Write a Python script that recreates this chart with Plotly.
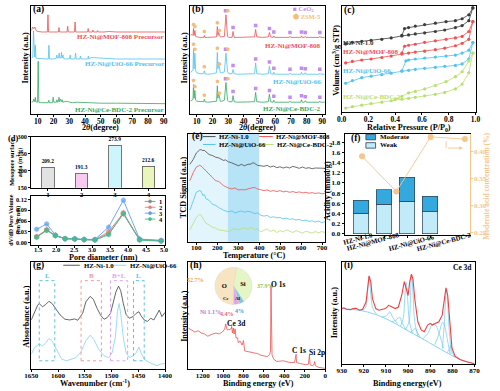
import plotly.graph_objects as go

# ======================= DATA =======================
# (a) XRD of precursors: (2theta, stacked intensity a.u.)
a_red = [(6,85),(6.8,88.5),(7.5,87),(8.2,88.5),(9,85),(10,84),(13,83.5),(16.1,83.5),(16.5,101),(16.9,83.5),(20,83.5),(23.1,83.5),(23.5,88),(23.9,83.5),(26,83.5),(28.6,83.5),(29.0,89.3),(29.4,83.5),(31,83.5),(33.3,83.5),(33.7,93.7),(34.1,83.5),(38,83.5),(41.6,83.5),(42.0,87),(42.4,83.5),(44.6,83.5),(45.0,85.5),(45.4,83.5),(47.6,83.5),(48.0,85),(48.4,83.5),(52,83.5),(55,84),(60,83.5),(70,83.5),(80,83.5),(90.8,83.5)]
a_blue = [(6,57),(6.9,58),(7.3,84.7),(7.7,60),(8.1,58),(8.5,70),(8.9,57),(10,56.5),(13,56),(16.7,56),(17.1,70),(17.5,56),(20,56),(21.7,56.5),(22.1,60),(22.5,57),(23.2,57),(23.6,62),(24.0,57),(24.7,57),(25.1,62.7),(25.5,57),(26.0,60),(26.4,56.5),(28,56),(30.2,56),(30.6,60),(31.0,56),(33.6,56),(34.0,62),(34.4,56),(36.7,56),(37.1,59),(37.5,56),(40,56),(41.7,56),(42.1,59),(42.5,56),(44,57.5),(48,57),(50,56.5),(55,56.5),(60,56),(70,56),(80,56),(90.8,56)]
a_green = [(6,12),(7.1,12.5),(7.5,15.3),(7.9,12.5),(8.2,12.5),(8.5,17),(8.8,12.5),(9.9,12),(10.3,53.7),(10.7,12),(12,11.5),(16.6,11.5),(17,14),(17.4,11.5),(19.4,11.5),(19.8,17),(20.2,12),(21.8,12),(22.2,14.5),(22.6,12),(23.1,12.5),(23.5,17),(23.9,12.5),(24.5,15),(25.1,12.5),(25.5,14.5),(25.9,12),(28,13),(30,12.5),(32,11.5),(35,12),(40,11.5),(45,11.5),(50,11),(60,11),(70,11),(80,10.5),(90.8,10.5)]

# (b) XRD of catalysts
b_red = [(6,80),(7.0,81),(7.6,80),(7.9,87),(8.3,80),(8.8,85),(9.3,79),(10,78.5),(12,78),(14.4,78),(14.8,80),(15.2,78),(17,78),(20,78),(22.6,78.5),(23.1,89),(23.5,80),(23.9,83),(24.4,81),(25,78.5),(26,78.5),(27.6,79),(28.6,101),(29.6,79),(30.5,78),(32.5,78),(33.1,84),(33.8,78),(36,78),(40,78),(44,78),(46.8,78.5),(47.5,86),(48.2,78.5),(52,78),(55.6,78.5),(56.3,83),(57,78.5),(58.6,78),(59.1,79.5),(59.6,78),(64,78),(68.9,78),(69.4,79),(69.9,78),(74,78),(76.2,78),(76.7,79.5),(77.2,78),(78.6,78),(79.1,79),(79.6,78),(85,78),(87.9,78),(88.4,79),(88.9,78),(91.5,78)]
b_blue = [(6,42),(7.0,44),(7.6,45),(7.9,67),(8.3,46),(8.8,62),(9.3,44),(10,42),(12,41),(14.4,41),(14.8,44),(15.2,41),(17,40.5),(20,41),(22.6,42),(23.1,62.7),(23.5,46),(23.9,53),(24.4,47),(25,42),(26,42),(27.6,43),(28.6,62),(29.6,43),(30.5,41),(32.5,41),(33.1,45.3),(33.8,41),(36,40.5),(40,40.5),(44,40.5),(46.8,41),(47.5,52),(48.2,41),(52,40.5),(55.6,41),(56.3,48.7),(57,41),(58.6,40.5),(59.1,42.5),(59.6,40.5),(64,40.5),(68.9,40.5),(69.4,41.5),(69.9,40.5),(74,40.5),(76.2,40.5),(76.7,42.5),(77.2,40.5),(78.6,40.5),(79.1,42),(79.6,40.5),(85,40.5),(87.9,40.5),(88.4,41.5),(88.9,40.5),(91.5,40.5)]
b_green = [(6,13),(7.0,14),(7.6,15),(7.9,30),(8.3,16),(8.8,24),(9.3,14),(10,13),(12,12.5),(14.4,12.5),(14.8,15),(15.2,12.5),(17,12),(20,12.5),(22.6,13),(23.1,28.7),(23.5,16),(23.9,22),(24.4,17),(25,13),(26,13),(27.6,14),(28.6,32),(29.6,14),(30.5,12.5),(32.5,12.5),(33.1,18.7),(33.8,12.5),(36,12),(40,12),(44,12),(46.8,12.5),(47.5,22),(48.2,12.5),(52,12),(55.6,12.5),(56.3,20),(57,12.5),(58.6,12),(59.1,14),(59.6,12),(64,12),(68.9,12),(69.4,13),(69.9,12),(74,12),(76.2,12),(76.7,14.5),(77.2,12),(78.6,12),(79.1,13.5),(79.6,12),(85,12),(87.9,12),(88.4,13),(88.9,12),(91.5,12)]
b_ceo2_x = [28.3, 33.1, 47.5, 56.3, 59.1, 69.4, 76.7, 79.1, 88.4]
b_ceo2_red = [105, 88, 90, 87, 83.5, 83, 83.5, 83, 83]
b_ceo2_blue = [66, 49.5, 56, 53, 46.5, 45.5, 46.5, 46, 45.5]
b_ceo2_green = [36, 23, 26, 24, 18, 17, 18.5, 17.5, 17]
b_zsm_x = [7.9, 8.8, 14.8, 23.1, 24.4, 29.8]
b_zsm_red = [91, 89, 84, 93, 85, 105]
b_zsm_blue = [71, 66, 48, 67, 51, 66]
b_zsm_green = [34, 28, 19, 33, 21, 36]

# (c) N2 isotherms (P/P0, volume offset)
c_black_ads = [(0.03,69.3),(0.08,71),(0.15,72),(0.22,73),(0.3,74),(0.37,75.5),(0.45,77.5),(0.5,78.5),(0.55,79.5),(0.62,80.5),(0.7,82),(0.77,83.5),(0.85,86),(0.9,88),(0.95,93),(0.98,106)]
c_black_des = [(0.98,106),(0.95,99),(0.9,95),(0.85,93),(0.78,92),(0.7,90.5),(0.62,89),(0.55,87.5),(0.5,86),(0.47,85),(0.45,78)]
c_red_ads = [(0.03,50),(0.08,51.5),(0.15,53),(0.22,54),(0.3,55.5),(0.37,57),(0.45,59),(0.5,60),(0.55,61),(0.62,62),(0.7,63.5),(0.77,65),(0.85,67.5),(0.9,70),(0.95,74),(0.98,92)]
c_red_des = [(0.98,92),(0.95,82),(0.9,77),(0.85,75.5),(0.78,74),(0.7,72.5),(0.62,71),(0.55,69),(0.5,68),(0.47,67),(0.45,60)]
c_blue_ads = [(0.03,29.3),(0.08,32),(0.15,35),(0.22,36.5),(0.3,38),(0.37,39.5),(0.45,41.5),(0.5,42.5),(0.55,43.5),(0.62,44.5),(0.7,45.5),(0.77,46.5),(0.85,47.5),(0.9,49),(0.95,54),(0.98,70.7)]
c_blue_des = [(0.98,70.7),(0.95,63),(0.9,60),(0.85,58),(0.78,57),(0.7,56),(0.62,55),(0.55,54),(0.5,53),(0.48,52),(0.45,42)]
c_green_ads = [(0.03,4),(0.08,5.5),(0.15,7),(0.22,8.5),(0.3,10),(0.37,11.5),(0.45,13),(0.5,14),(0.55,15),(0.62,16.5),(0.7,18),(0.77,20),(0.85,23.5),(0.9,28.5),(0.95,40),(0.98,60)]
c_green_des = [(0.98,60),(0.95,52),(0.9,41),(0.85,36),(0.78,31),(0.7,27),(0.62,23.5),(0.55,21),(0.5,19.5),(0.45,16),(0.4,13)]

# (d) mesopore area and pore size distribution
d_samples = [1, 2, 3, 4]
d_meso_area = [209.2, 191.3, 273.9, 212.6]
d_pore_d = [1.46, 1.74, 1.98, 2.25, 2.52, 2.78, 3.08, 3.46, 3.87, 4.32, 4.92]
d_psd_1 = [0.016, 0.035, 0.020, 0.011, 0.010, 0.008, 0.008, 0.025, 0.080, 0.008, 0.005]
d_psd_2 = [0.017, 0.036, 0.020, 0.011, 0.010, 0.008, 0.008, 0.030, 0.083, 0.009, 0.006]
d_psd_3 = [0.037, 0.052, 0.021, 0.011, 0.011, 0.009, 0.009, 0.043, 0.118, 0.010, 0.006]
d_psd_4 = [0.015, 0.034, 0.019, 0.011, 0.010, 0.009, 0.007, 0.022, 0.081, 0.007, 0.004]

# (e) NH3-TPD (temperature, offset signal)
e_black = [(69,78.7),(85,83.7),(100,90.3),(115,93.3),(123,93.7),(131,92.7),(138,93),(146,91.3),(154,90),(161,88.7),(177,87.7),(192,86),(207,85.3),(230,82.7),(238,83.3),(253,81.3),(269,80.3),(284,78.7),(300,77.3),(315,78.7),(330,77.3),(346,78.7),(361,79),(369,80.3),(376,80),(392,77.7),(407,77),(423,76.7),(438,77.7),(453,76),(469,77),(484,75.3),(499,76.3),(515,75),(530,76),(545,75),(561,76.7),(576,75.3),(591,74.7),(607,76),(622,74.7),(638,75.3),(653,74.3),(668,75),(684,74.7),(699,74.3),(714,74.7)]
e_red = [(69,62),(85,70.3),(100,76),(115,77.7),(123,77),(131,75.3),(146,72.7),(161,68.7),(177,65.3),(192,62),(207,61.3),(230,57),(253,54.7),(269,53.7),(284,54.7),(300,52.7),(315,53),(330,52.7),(346,53.7),(361,54.7),(376,55.3),(392,53.7),(407,52.7),(423,52),(438,52.7),(453,51.3),(469,52),(484,51),(499,52),(515,50.7),(530,51.3),(545,50.3),(561,51),(576,50),(591,50.7),(607,49.7),(622,50.3),(638,49.3),(653,50),(668,49),(684,49.7),(699,48.7),(714,49.3)]
e_blue = [(69,32),(85,42),(100,50.3),(115,52),(123,51.3),(131,47),(138,48),(146,43.7),(161,42),(177,38),(192,37),(207,34.7),(230,32),(253,30.3),(269,31.3),(284,29.3),(300,30.3),(315,31.3),(330,30),(346,31),(361,30.3),(376,28.7),(392,29.3),(407,27),(423,26),(438,26.7),(453,24.7),(469,25.3),(484,24.3),(499,24.7),(515,23.3),(530,24),(545,22.7),(561,23.3),(576,22),(591,22.7),(607,21.3),(622,22),(638,20.7),(653,21.3),(668,20),(684,21),(699,19.3),(714,20.3)]
e_green = [(69,12),(85,18.7),(100,24.7),(115,27.7),(123,27),(131,23.7),(146,18.7),(161,17),(177,14.7),(192,13.7),(207,12),(230,11.3),(253,10.3),(269,12),(284,13.3),(300,12),(315,12.7),(330,14),(346,12.7),(361,14.7),(376,12),(392,13.3),(407,10),(423,12),(438,13),(453,10.3),(469,12),(484,9.3),(499,11.3),(515,10),(530,12),(545,10.7),(561,9.3),(576,11.3),(591,10),(607,8.7),(622,10.7),(638,9.7),(653,8.7),(668,10.3),(684,9),(699,10.3),(714,9.3)]
e_zones = [(62, 250), (250, 400)]

# (f) acidity
f_catalysts = ["HZ-Ni-1.0", "HZ-Ni@MOF-808", "HZ-Ni@UiO-66", "HZ-Ni@Ce-BDC-2"]
f_weak = [0.40, 0.58, 0.64, 0.43]
f_moderate = [0.26, 0.29, 0.47, 0.31]
f_mod_conc = [0.391, 0.326, 0.427, 0.423]

# (g) Py-IR (wavenumber, offset absorbance)
g_black = [(1650,50.3),(1644,58.7),(1638,65.3),(1635,67),(1629,63.7),(1623,66),(1617,69.3),(1611,67),(1605,62),(1596,55.3),(1587,51),(1578,50.3),(1569,51.3),(1563,50),(1554,57),(1548,68.7),(1540,74.3),(1534,71.3),(1527,62),(1520,54.7),(1514,51),(1508,52.7),(1502,57),(1496,68.7),(1492,78.7),(1487,84.7),(1483,80.3),(1478,67),(1473,56),(1467,52),(1460,53.7),(1454,57),(1449,58.7),(1445,54.7),(1439,50.3),(1433,48.7),(1427,52),(1421,50.3),(1415,57),(1411,60.3),(1406,53.7),(1400,58)]
g_blue = [(1650,15.3),(1644,22),(1635,26),(1629,23.7),(1623,27),(1617,31.3),(1611,28.7),(1605,22),(1599,15.3),(1593,10.3),(1584,8.7),(1575,10.3),(1566,12),(1557,18),(1548,29.3),(1540,34.7),(1533,30.3),(1524,20.3),(1514,13.7),(1505,12),(1499,17),(1493,32),(1489,58.7),(1486,67),(1483,57),(1478,32),(1473,17),(1467,12),(1460,13.7),(1454,17),(1449,22.7),(1445,17),(1439,10.3),(1430,7),(1421,4.7),(1415,3.7),(1409,5.3),(1400,6)]
g_bands = [(1635, 1606, "L"), (1557, 1519, "B"), (1502, 1470, "B+L"), (1459, 1439, "L")]

# (h) XPS survey (binding energy, intensity) and composition pie
h_survey = [(1341,42),(1309,40.3),(1278,38),(1246,39.3),(1215,37),(1183,36),(1151,33.7),(1120,35.3),(1073,37),(1041,36),(1009,38),(985,41),(975,46.3),(962,40.3),(946,40.3),(921,41.3),(916,43.7),(910,37),(900,42),(893,36),(883,41.3),(874,32),(858,32),(852,27),(833,28.7),(814,24.7),(801,29.3),(789,18.7),(757,18),(726,17.7),(694,17),(662,16),(631,14.3),(599,13.7),(568,13),(543,15.3),(536,18.7),(531,85.3),(527,15.3),(521,14.7),(505,10.3),(473,8),(410,8.7),(347,7),(300,7),(285,15.3),(281,7),(252,6),(189,4.7),(164,5.3),(154,14.7),(148,4.7),(126,3.7),(110,4.7),(103,8),(96,3.7),(63,2),(32,1.3),(0,1)]
h_pie_labels = ["Si", "Al", "Ni", "Ce", "O"]
h_pie_values = [37.9, 4.0, 1.1, 4.4, 52.7]

# (i) Ce 3d XPS
i_raw = [(930,56.7),(929,57.5),(927.8,56),(926,55.5),(924.9,56.7),(923.5,57),(922,55),(921,55.5),(920.5,56),(919,63.3),(918.3,76.7),(917.6,90),(916.8,83.3),(916.1,66.7),(914.6,56.7),(913.2,55),(911.5,56),(910.2,56.7),(908.8,60),(907.3,58.3),(905.8,56.7),(904.4,58.3),(902.9,70),(901.7,84),(900.7,75),(900,70),(899.3,83.3),(898.5,91.7),(897.8,86.7),(897,66.7),(895.6,43.3),(894.1,35),(892.7,33.3),(891.2,40),(890,41.7),(889,40),(887.5,41.7),(886.1,43.3),(884.6,50),(883.6,66.7),(882.9,77.7),(882.1,70),(881.2,40),(880.2,16.7),(878.8,8.3),(876.6,5),(873.6,2.7),(870,0.7)]
i_base = [(930,56.7),(922,55),(914.6,50.7),(907.3,43.3),(900,34),(892.7,25),(885,15),(881,10),(876.6,5),(870,0.7)]
i_components = [
    [(921,54.7),(919.3,57.3),(918.4,70),(917.6,89.3),(916.8,70),(915.9,56.7),(914.2,50.7)],
    [(912,48),(909.8,49.3),(908.3,53.3),(906.8,47.3),(904.6,40.7)],
    [(907.5,43.3),(905.2,45.3),(903.9,48),(902.6,41.7),(900.8,35)],
    [(903.5,38.7),(902.2,46.7),(901.5,66.7),(900.9,83.3),(900.2,66.7),(899.4,43.3),(898,31.7)],
    [(901,36),(899.6,43.3),(898.9,70),(898.4,90.7),(897.8,73.3),(897,43.3),(895.5,28.3)],
    [(899,32.7),(897.5,35),(896.8,36.7),(896,33.3),(894.5,27.3)],
    [(893.5,25.7),(891,31.7),(889.3,40),(888.5,41.3),(887.6,40),(886,31.7),(884,16.7)],
    [(888,20),(886.2,30),(885,40),(884.3,42.7),(883.6,40),(882.4,26.7),(881,10)],
    [(884.5,16),(883.6,43.3),(883,70),(882.7,76.7),(882.3,70),(881.6,40),(880.5,10.7)],
    [(882.5,11.7),(881.5,15),(880.8,19.3),(880,12.7),(879,7.3)],
]

# ======================= FIGURE =======================
W, H = 500, 391
FONT = "Liberation Serif"
C_BLK = "#3c3c3c"; C_RED = "#ee5252"; C_BLU = "#52c2ef"; C_GRN = "#33aa5f"; C_YG = "#b8e070"
C_PUR = "#c58cf0"; C_ORG = "#f5bd78"; C_FORG = "#f6c68c"

fig = go.Figure()
annots, shapes = [], []

def px(x): return x / W
def py(y): return 1 - y / H

def split(pairs):
    return [p[0] for p in pairs], [p[1] for p in pairs]

def add_line(pairs, color, xa, ya, width=0.9, mode="lines", marker=None, shape="linear"):
    xs, ys = split(pairs)
    fig.add_trace(go.Scatter(x=xs, y=ys, mode=mode, xaxis=xa, yaxis=ya,
                             line=dict(color=color, width=width, shape=shape),
                             marker=marker, hoverinfo="skip", showlegend=False))

def text(t, x, y, size=7.5, color="black", angle=0, xanchor="center", yanchor="middle",
         xref="paper", yref="paper"):
    if xref == "paper": x = px(x)
    if yref == "paper": y = py(y)
    annots.append(dict(text=t, x=x, y=y, xref=xref, yref=yref, showarrow=False, textangle=angle,
                       xanchor=xanchor, yanchor=yanchor, borderpad=0,
                       font=dict(family=FONT, size=size, color=color, weight="bold")))

def pline(x0, y0, x1, y1, color, width=1.0, dash=None):
    shapes.append(dict(type="line", xref="paper", yref="paper", x0=px(x0), y0=py(y0), x1=px(x1), y1=py(y1),
                       line=dict(color=color, width=width, dash=dash)))

def pdot(x, y, color, r=1.8):
    shapes.append(dict(type="circle", xref="paper", yref="paper", x0=px(x - r), x1=px(x + r),
                       y0=py(y + r), y1=py(y - r), fillcolor=color, line=dict(color=color, width=0.5)))

def prect(x0, y0, x1, y1, fill, line="#333333"):
    shapes.append(dict(type="rect", xref="paper", yref="paper", x0=px(x0), x1=px(x1), y0=py(y1), y1=py(y0),
                       fillcolor=fill, line=dict(color=line, width=0.8)))

def tf(size=7.5, color="black"):
    return dict(family=FONT, size=size, color=color, weight="bold")

def axis(l, r, anchor, rng, horizontal=True, fs=7.5, so=-2, **kw):
    d = dict(domain=[px(l), px(r)] if horizontal else [py(r), py(l)], anchor=anchor, range=rng,
             showline=True, mirror=True, linecolor="black", linewidth=1, showgrid=False, zeroline=False,
             ticks="outside", ticklen=2, tickwidth=0.8, tickcolor="black", tickfont=tf(fs))
    if horizontal:
        d["ticklabelstandoff"] = so
    d.update(kw)
    return d

noy = dict(showticklabels=False, ticks="")

# ---------- (a) ----------
add_line(a_red, C_RED, "x", "y", 0.8)
add_line(a_blue, C_BLU, "x", "y", 0.8)
add_line(a_green, C_GRN, "x", "y", 0.8)
text("HZ-Ni@MOF-808 Precursor", 90.5, 78.5, 7, C_RED, xanchor="right", xref="x", yref="y")
text("HZ-Ni@UiO-66 Precursor", 90.5, 51, 7, C_BLU, xanchor="right", xref="x", yref="y")
text("HZ-Ni@Ce-BDC-2 Precursor", 90.5, 4.5, 7, C_GRN, xanchor="right", xref="x", yref="y")

# ---------- (b) ----------
add_line(b_red, C_RED, "x2", "y2", 0.8)
add_line(b_blue, C_BLU, "x2", "y2", 0.8)
add_line(b_green, C_GRN, "x2", "y2", 0.8)
fig.add_trace(go.Scatter(x=b_ceo2_x * 3, y=b_ceo2_red + b_ceo2_blue + b_ceo2_green, mode="markers",
                         xaxis="x2", yaxis="y2", marker=dict(symbol="square", size=3.5, color=C_PUR),
                         hoverinfo="skip", showlegend=False))
fig.add_trace(go.Scatter(x=b_zsm_x * 3, y=b_zsm_red + b_zsm_blue + b_zsm_green, mode="markers",
                         xaxis="x2", yaxis="y2", marker=dict(symbol="hexagon", size=4, color=C_ORG),
                         hoverinfo="skip", showlegend=False))
text("HZ-Ni@MOF-808", 90, 69, 7, C_RED, xanchor="right", xref="x2", yref="y2")
text("HZ-Ni@UiO-66", 90, 33, 7, C_BLU, xanchor="right", xref="x2", yref="y2")
text("HZ-Ni@Ce-BDC-2", 90, 5, 7, C_GRN, xanchor="right", xref="x2", yref="y2")
text("<span style='color:%s'>■</span> CeO<sub>2</sub>" % C_PUR, 294, 5, 6.5, C_PUR, xanchor="left")
text("<span style='color:%s'>⬢</span> ZSM-5" % C_ORG, 294, 13, 6.5, C_ORG, xanchor="left")

# ---------- (c) ----------
for ads, des, col in [(c_black_ads, c_black_des, C_BLK), (c_red_ads, c_red_des, C_RED),
                      (c_blue_ads, c_blue_des, C_BLU), (c_green_ads, c_green_des, C_YG)]:
    mk = dict(symbol="circle", size=3.2, color=col)
    add_line(ads, col, "x3", "y3", 0.8, "lines+markers", mk)
    add_line(des, col, "x3", "y3", 0.8, "lines+markers", mk)
text("HZ-Ni-1.0", 0.005, 70.5, 7, C_BLK, xanchor="left", xref="x3", yref="y3")
text("HZ-Ni@MOF-808", 0.005, 61, 7, C_RED, xanchor="left", xref="x3", yref="y3")
text("HZ-Ni@UiO-66", 0.005, 42, 7, C_BLU, xanchor="left", xref="x3", yref="y3")
text("HZ-Ni@Ce-BDC-2", 0.005, 15.5, 7, C_YG, xanchor="left", xref="x3", yref="y3")

# ---------- (d) ----------
d_bar_colors = ["#e2e2e2", "#f8caf0", "#cdf6fc", "#e9f6bb"]
fig.add_trace(go.Bar(x=d_samples, y=d_meso_area, width=0.38, xaxis="x4", yaxis="y4",
                     marker=dict(color=d_bar_colors, line=dict(color="#555555", width=0.8)),
                     text=["%.1f" % v for v in d_meso_area], textposition="outside", cliponaxis=False,
                     textfont=tf(7), hoverinfo="skip", showlegend=False))
d_line_colors = ["#8a8a8a", "#f07878", "#5e9ff0", "#3ec08a"]
for vals, col in zip([d_psd_1, d_psd_2, d_psd_3, d_psd_4], d_line_colors):
    fig.add_trace(go.Scatter(x=d_pore_d, y=vals, mode="lines+markers", xaxis="x5", yaxis="y5",
                             line=dict(color=col, width=0.9),
                             marker=dict(symbol="hexagon", size=5, color=col, opacity=0.75,
                                         line=dict(color=col, width=0.6)),
                             hoverinfo="skip", showlegend=False))
for k, (col, yy) in enumerate(zip(d_line_colors, [201, 207, 213, 219])):
    pline(142, yy, 153, yy, col, 0.9)
    pdot(147.5, yy, col, 1.6)
    text(str(d_samples[k]), 156, yy, 6.5, "black", xanchor="left")

# ---------- (e) ----------
for (t0, t1), fc in zip(e_zones, ["#e3f5fc", "#b6e3f6"]):
    shapes.append(dict(type="rect", xref="x6", yref="y6 domain", x0=t0, x1=t1, y0=0, y1=1,
                       fillcolor=fc, line=dict(width=0), layer="below"))
add_line(e_black, "#4a4a4a", "x6", "y6", 0.8)
add_line(e_red, C_RED, "x6", "y6", 0.8)
add_line(e_blue, C_BLU, "x6", "y6", 0.8)
add_line(e_green, C_YG, "x6", "y6", 0.8)
for (x0, x1, yy, col, lab) in [(202, 215, 135, "#4a4a4a", "HZ-Ni-1.0"), (260, 274, 135, C_RED, "HZ-Ni@MOF-808"),
                               (202, 215, 143, C_BLU, "HZ-Ni@UiO-66"), (262, 275, 143, C_YG, "HZ-Ni@Ce-BDC-2")]:
    pline(x0, yy, x1, yy, col, 1.0)
    text(lab, x1 + 2.5, yy, 6.8, "black", xanchor="left")

# ---------- (f) ----------
fig.add_trace(go.Bar(x=[0, 1, 2, 3], y=f_weak, width=0.68, xaxis="x7", yaxis="y7",
                     marker=dict(color="#c2ebf9", line=dict(color="#2d3e50", width=0.7)),
                     hoverinfo="skip", showlegend=False))
fig.add_trace(go.Bar(x=[0, 1, 2, 3], y=f_moderate, width=0.68, xaxis="x7", yaxis="y7",
                     marker=dict(color="#35a9de", line=dict(color="#2d3e50", width=0.7)),
                     hoverinfo="skip", showlegend=False))
fig.add_trace(go.Scatter(x=[1, 2, 3, 4], y=f_mod_conc, mode="lines+markers", xaxis="x8", yaxis="y8",
                         line=dict(color=C_FORG, width=0.9), marker=dict(size=6, color=C_FORG),
                         hoverinfo="skip", showlegend=False))
prect(370, 132.7, 380, 138.3, "#35a9de", "#2d3e50")
prect(370, 141.2, 380, 146.8, "#c2ebf9", "#2d3e50")
text("Moderate", 383, 135.5, 7, "black", xanchor="left")
text("Weak", 383, 144, 7, "black", xanchor="left")
pline(452.7, 140, 452.7, 146.7, C_FORG, 0.9)
annots.append(dict(x=px(470), y=py(146.7), ax=-17.3, ay=0, xref="paper", yref="paper",
                   axref="pixel", ayref="pixel", showarrow=True, arrowhead=2, arrowsize=0.8,
                   arrowwidth=0.9, arrowcolor=C_FORG, text=" "))
for lab, cx, cy in zip(f_catalysts, [362, 377, 417, 451], [239, 242, 243, 242]):
    text(lab, cx, cy, 6.8, "black", angle=-15)

# ---------- (g) ----------
for (w0, w1, lab), col in zip(g_bands, ["#5bbfe9", "#f39a9a", "#d8a5f0", "#5bbfe9"]):
    shapes.append(dict(type="rect", xref="x9", yref="y9", x0=w0, x1=w1, y0=8.7, y1=90.3,
                       fillcolor="rgba(0,0,0,0)", line=dict(color=col, width=1, dash="dot")))
    text(lab, (w0 + w1) / 2, 95.5, 7, col, xref="x9", yref="y9")
add_line(g_black, "#555555", "x9", "y9", 0.9)
add_line(g_blue, "#8fd8f5", "x9", "y9", 0.9)
pline(58, 266, 75, 266, "#555555", 1.0)
text("HZ-Ni-1.0", 78, 266, 6.8, "black", xanchor="left")
pline(107, 266, 123, 266, "#8fd8f5", 1.0)
text("HZ-Ni@UiO-66", 126, 266, 6.8, "black", xanchor="left")

# ---------- (h) ----------
add_line(h_survey, C_RED, "x10", "y10", 0.8)
fig.add_trace(go.Pie(labels=h_pie_labels, values=h_pie_values, sort=False, direction="clockwise",
                     rotation=10, domain=dict(x=[px(210), px(257)], y=[py(306), py(268)]),
                     marker=dict(colors=["#e4f5c6", "#79c6ef", "#f3a6c0", "#dca6ec", "#f7e4c2"],
                                 line=dict(color="#d8d0c0", width=0.3)),
                     text=["Si", "", "", "", "O"], textinfo="text", textposition="inside",
                     insidetextorientation="horizontal", textfont=tf(6.5),
                     hoverinfo="skip", showlegend=False))
text("Ce", 226.5, 300, 5, "black")
text("Al", 238.5, 300, 5, "black")
text("52.7%", 204, 281, 6, "#f0a656", xanchor="right")
text("37.9%", 257, 287, 6, "#88c448", xanchor="left")
text("Ni 1.1%", 210, 314, 6, "#b77ae0")
text("4.4%", 227, 316, 6, "#f0607a")
text("4%", 240, 313, 6, "#3f9de0")
text("Ce 3d", 870, 46.5, 7.5, "black", xref="x10", yref="y10")
text("O 1s", 460, 86, 7.5, "black", xref="x10", yref="y10")
text("C 1s", 259, 19.5, 7.5, "black", xref="x10", yref="y10")
text("Si 2p", 79, 17, 7.5, "black", xref="x10", yref="y10")

# ---------- (i) ----------
add_line(i_base, "#6ccaf0", "x11", "y11", 0.8, shape="spline")
for comp in i_components:
    add_line(comp, "#6ccaf0", "x11", "y11", 0.7, shape="spline")
add_line(i_raw, "#ee4040", "x11", "y11", 1.1)
text("Ce 3d", 480, 268, 7.5, "black", xanchor="right")

# ---------- panel letters ----------
for lab, x, y, s in [("(a)", 26, 6, 9.5), ("(b)", 189.5, 6, 9.5), ("(c)", 346, 7, 9.5), ("(d)", 0, 136, 8.5),
                     ("(e)", 190, 135, 9.5), ("(f)", 354, 137, 9.5), ("(g)", 26, 266, 9.5),
                     ("(h)", 188, 266, 9.5), ("(i)", 346, 266, 9.5)]:
    text(lab, x, y, s, "black", xanchor="left")

# ---------- axis titles ----------
AT = 8.2
text("2<i>θ</i>(degree)", 96, 126, AT)
text("Intensity (a.u.)", 19, 55, AT, angle=-90)
text("2<i>θ</i>(degree)", 258, 126, AT)
text("Intensity (a.u.)", 182, 55, AT, angle=-90)
text("Relative Pressure (P/P<sub>0</sub>)", 414, 126, AT)
text("Volume (cm<sup>3</sup>/g STP)", 339, 57, AT, angle=-90)
text("Mesopore surface<br>area (m<sup>2</sup>/g)", 9, 161, 6.2, angle=-90)
text("Pore diameter (nm)", 99, 258, AT)
text("dV/dD Pore Volume<br>(cm<sup>3</sup>/g·nm)", 8, 220, 6.0, angle=-90)
text("Temperature (°C)", 255, 256.5, AT)
text("TCD Signal (a.u.)", 182, 187, AT, angle=-90)
text("Acidity (mmol/g)", 331, 190, AT, angle=-90)
text("Moderate acid concentration (%)", 494, 186, 7.5, C_FORG, angle=-90)
text("Wavenumber (cm<sup>-1</sup>)", 91, 386, AT)
text("Absorbance (a.u.)", 20, 318, AT, angle=-90)
text("Binding energy (eV)", 259, 386, AT)
text("Intensity (a.u.)", 183, 318, AT, angle=-90)
text("Binding energy(eV)", 413, 386, AT)
text("Intensity (a.u.)", 337, 314, AT, angle=-90)

ticks_2t = [10, 20, 30, 40, 50, 60, 70, 80, 90]
fig.update_layout(
    width=W, height=H, margin=dict(l=0, r=0, t=0, b=0), autosize=False,
    paper_bgcolor="white", plot_bgcolor="white", showlegend=False, barmode="stack",
    font=dict(family=FONT, size=7.5, color="black"),
    xaxis=axis(25, 163, "y", [5.9, 90.8], tickvals=ticks_2t),
    yaxis=axis(2, 112, "x", [0, 110], False, **noy),
    xaxis2=axis(189, 328, "y2", [5.9, 91.8], tickvals=ticks_2t),
    yaxis2=axis(2, 112, "x2", [0, 110], False, **noy),
    xaxis3=axis(345, 483, "y3", [0, 1.0], tickvals=[0, 0.2, 0.4, 0.6, 0.8, 1.0], tickformat=".1f"),
    yaxis3=axis(2, 110, "x3", [0, 108], False, **noy),
    xaxis4=axis(25, 163, "y4", [0.5, 4.5], fs=7, tickvals=[1, 2, 3, 4]),
    yaxis4=axis(135, 187, "x4", [150, 300], False, fs=6.3, tickvals=[150, 200, 250, 300]),
    xaxis5=axis(25, 163, "y5", [1.31, 5.03], fs=6.5, so=-3, tickvals=[1.5, 2.0, 2.5, 3.0, 3.5, 4.0, 4.5, 5.0], tickformat=".1f"),
    yaxis5=axis(195, 245, "x5", [-0.0055, 0.131], False, fs=6.3, tickvals=[0, 0.03, 0.06, 0.09, 0.12], tickformat=".2f"),
    xaxis6=axis(187, 328, "y6", [62, 715], fs=7, so=-3, tickvals=[100, 200, 300, 400, 500, 600, 700]),
    yaxis6=axis(132, 242, "x6", [0, 110], False, **noy),
    xaxis7=axis(348, 477, "y7", [-0.72, 4.72], tickvals=[0, 1, 2, 3], showticklabels=False),
    yaxis7=axis(132, 235, "x7", [-0.02, 1.97], False, fs=7, mirror=False,
                tickvals=[0, 0.2, 0.4, 0.6, 0.8, 1.0, 1.2, 1.4, 1.6, 1.8], tickformat=".1f"),
    xaxis8=dict(overlaying="x7", anchor="y7", range=[0.49, 4.14], visible=False),
    yaxis8=dict(overlaying="y7", anchor="x7", side="right", range=[0.246, 0.433],
                showline=True, linecolor=C_FORG, linewidth=1, showgrid=False, zeroline=False,
                ticks="outside", ticklen=2, tickcolor=C_FORG, tickvals=[0.25, 0.30, 0.35, 0.40],
                tickformat=".2f", tickfont=tf(7, C_FORG)),
    xaxis9=axis(25, 163, "y9", [1650, 1400], fs=7, so=-3, tickvals=[1650, 1600, 1550, 1500, 1450, 1400]),
    yaxis9=axis(263, 372, "x9", [0, 109], False, **noy),
    xaxis10=axis(187, 328, "y10", [1341, 0], fs=7, so=-3, tickvals=[1200, 1000, 800, 600, 400, 200, 0]),
    yaxis10=axis(263, 372, "x10", [0, 109], False, **noy),
    xaxis11=axis(345, 482, "y11", [930, 870], fs=7, so=-3, tickvals=[930, 920, 910, 900, 890, 880, 870]),
    yaxis11=axis(263, 367, "x11", [0, 103.7], False, **noy),
    annotations=annots, shapes=shapes,
)

fig.write_html("out.html", config={"displayModeBar": False},
               post_script="document.body.style.margin='0px';document.body.style.overflow='hidden';")
